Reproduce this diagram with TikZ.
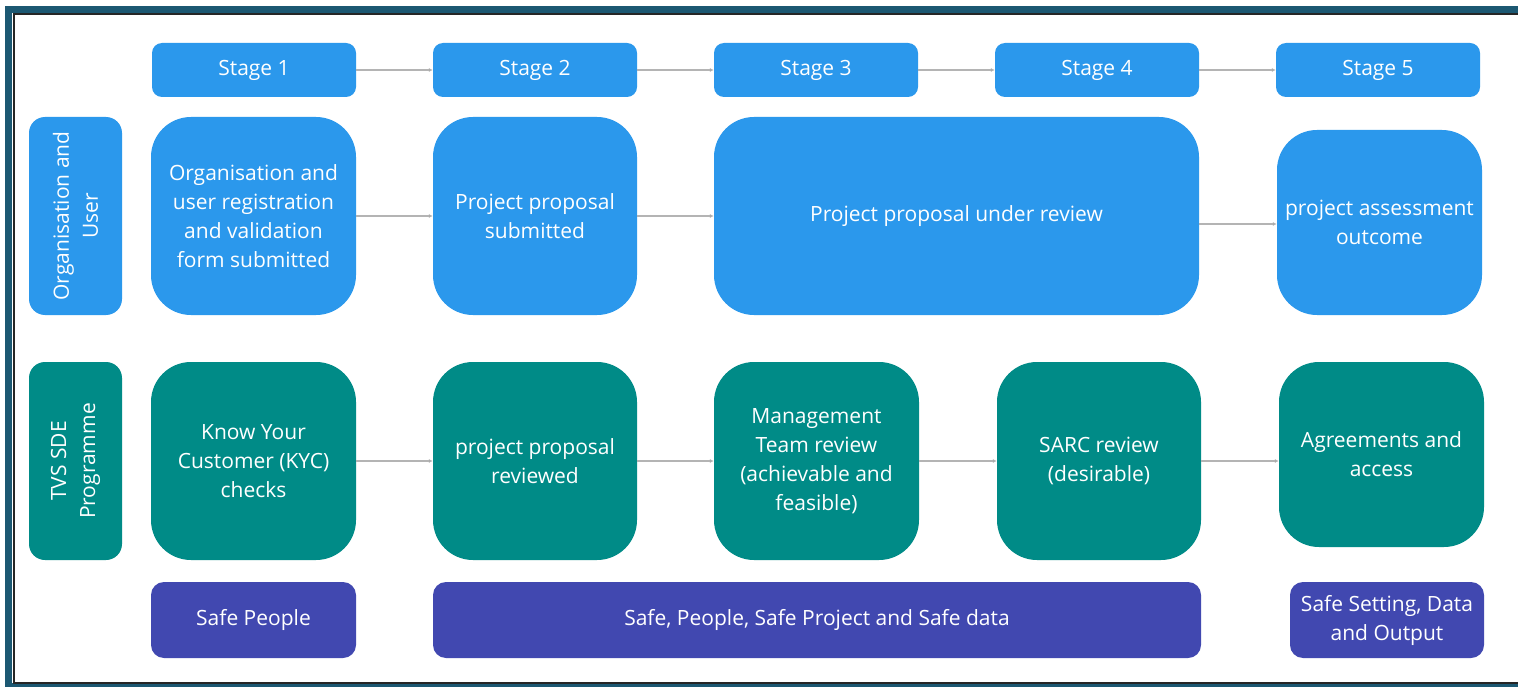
\documentclass[tikz,border=0pt]{standalone}
\usepackage{fontspec}
\setmainfont{Open Sans}
\usetikzlibrary{arrows.meta}
\definecolor{cblue}{RGB}{43,152,236}
\definecolor{cteal}{RGB}{0,139,135}
\definecolor{cpurple}{RGB}{65,72,176}
\definecolor{cframe}{RGB}{28,88,114}
\definecolor{cline}{RGB}{180,180,180}
\begin{document}
\begin{tikzpicture}[x=1pt,y=-1pt,
  basebox/.style={rectangle, draw=none, text=white, align=center, inner sep=0pt,
    font=\fontsize{21}{29}\selectfont},
  stagebox/.style={basebox, fill=cblue, rounded corners=10pt, minimum width=204pt, minimum height=54pt},
  bluebox/.style={basebox, fill=cblue, rounded corners=40pt, minimum height=198pt},
  tealbox/.style={basebox, fill=cteal, rounded corners=40pt, minimum height=198pt},
  lanebox/.style={basebox, rounded corners=16pt, minimum width=93pt, minimum height=198pt},
  lanetext/.style={rotate=90, text=white, align=center, inner sep=0pt, font=\fontsize{21}{29}\selectfont},
  safebox/.style={basebox, fill=cpurple, rounded corners=13pt, minimum height=76pt},
  conn/.style={draw=cline, line width=1.1pt, -{Latex[length=4pt,width=4pt,fill=gray!70!black]}}
]
\useasboundingbox (0,0) rectangle (1518,687);
\fill[white] (0,0) rectangle (1518,687);
% frame
\draw[cframe, line width=7pt] (1530,9.5) -- (8.5,9.5) -- (8.5,686) -- (1530,686);
\draw[black!85, line width=2pt] (1530,14.5) -- (14,14.5) -- (14,682.5) -- (1530,682.5);

% stages
\node[stagebox] (s1) at (254,70) {Stage 1};
\node[stagebox] (s2) at (535,70) {Stage 2};
\node[stagebox] (s3) at (816,70) {Stage 3};
\node[stagebox] (s4) at (1097,70) {Stage 4};
\node[stagebox] (s5) at (1378,70) {Stage 5};

% lanes
\node[lanebox, fill=cblue] (l1) at (75.5,216) {};
\node[lanetext] (l1t) at (l1.center) {Organisation and\\User};
\node[lanebox, fill=cteal] (l2) at (75.5,461) {};
\node[lanetext] (l2t) at (l2.center) {TVS SDE\\Programme};

% row 1
\node[bluebox, minimum width=205pt] (b1) at (253.5,216) {Organisation and\\user registration\\and validation\\form submitted};
\node[bluebox, minimum width=204pt] (b2) at (535,216) {Project proposal\\submitted};
\node[bluebox, minimum width=485pt] (b3) at (956.5,216) {Project proposal under review};
\node[bluebox, minimum width=205pt, minimum height=185pt] (b5) at (1379.5,222.5) {project assessment\\outcome};

% row 2
\node[tealbox, minimum width=205pt] (t1) at (253.5,461) {Know Your\\Customer (KYC)\\checks};
\node[tealbox, minimum width=204pt] (t2) at (535,461) {project proposal\\reviewed};
\node[tealbox, minimum width=205pt] (t3) at (816.5,461) {Management\\Team review\\(achievable and\\feasible)};
\node[tealbox, minimum width=204pt] (t4) at (1099,461) {SARC review\\(desirable)};
\node[tealbox, minimum width=205pt, minimum height=185pt] (t5) at (1381.5,454.5) {Agreements and\\access};

% safe row
\node[safebox, minimum width=205pt] (p1) at (253.5,620) {Safe People};
\node[safebox, minimum width=768pt] (p2) at (817,620) {Safe, People, Safe Project and Safe data};
\node[safebox, minimum width=194pt] (p3) at (1387,620) {Safe Setting, Data\\and Output};

% connectors
\draw[conn] (s1) -- (s2);
\draw[conn] (s2) -- (s3);
\draw[conn] (s3) -- (s4);
\draw[conn] (s4) -- (s5);
\draw[conn] (b1) -- (b2);
\draw[conn] (b2) -- (b3);
\draw[conn] ([yshift=-8pt]b3.east) -- ([yshift=-8pt]b3.east -| b5.west);
\draw[conn] (t1) -- (t2);
\draw[conn] (t2) -- (t3);
\draw[conn] (t3) -- (t4);
\draw[conn] (t4.east) -- (t4.east -| t5.west);
\end{tikzpicture}
\end{document}
